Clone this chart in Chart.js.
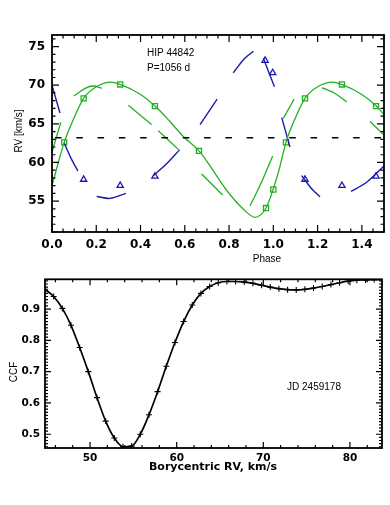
<!DOCTYPE html>
<html>
<head>
<meta charset="utf-8">
<script src="https://cdn.jsdelivr.net/npm/chart.js@4.4.0/dist/chart.umd.min.js"></script>
<style>
html, body { margin: 0; padding: 0; background: #fff; }
#wrap { position: relative; width: 390px; height: 505px; }
canvas { position: absolute; left: 0; }
</style>
</head>
<body>
<div id="wrap">
  <canvas id="rvChart" width="390" height="268" style="top:0px"></canvas>
  <canvas id="ccfChart" width="390" height="237" style="top:268px"></canvas>
</div>
<script>
// ---- RV curve (top panel) ----
let gammaRV = 63.2

// primary fit (solid green)
let fitPhase = [0, 0.055, 0.1, 0.143, 0.2, 0.266, 0.308, 0.4, 0.465, 0.53, 0.592, 0.664, 0.72, 0.771, 0.82, 0.863, 0.917, 0.967, 1.0, 1.03, 1.057, 1.1, 1.143, 1.2, 1.266, 1.308, 1.4, 1.465, 1.5]
let fitRV = [57.0, 62.6, 65.8, 68.3, 69.8, 70.4, 70.1, 68.8, 67.3, 65.4, 63.4, 61.5, 59.3, 57.1, 55.3, 54.0, 52.9, 54.1, 56.6, 59.5, 62.6, 65.8, 68.3, 69.8, 70.4, 70.1, 68.8, 67.3, 66.2]

// second green curve (long dashes, null = gap)
let altPhase = [0, 0.02, 0.04, null, 0.099, 0.15, 0.187, 0.225, null, 0.345, 0.45, null, 0.48, 0.578, null, 0.676, 0.771, null, 0.895, 0.946, 0.997, null, 1.045, 1.094, null, 1.219, 1.275, 1.332, null, 1.437, 1.5]
let altRV = [61.3, 63.3, 65.2, null, 68.6, 69.6, 69.9, 69.6, null, 67.4, 64.9, null, 64.1, 61.5, null, 58.5, 55.8, null, 54.4, 57.4, 60.85, null, 65.7, 68.2, null, 69.7, 69.0, 67.85, null, 65.3, 63.55]

// secondary fit (blue, long dashes)
let secPhase = [0, 0.018, 0.036, null, 0.054, 0.085, 0.117, null, 0.202, 0.262, 0.334, null, 0.458, 0.52, 0.575, null, 0.669, 0.746, null, 0.819, 0.865, 0.91, null, 0.955, 1.005, null, 1.038, 1.075, null, 1.128, 1.17, 1.211, null, 1.351, 1.42, 1.5]
let secRV = [70.0, 68.2, 66.4, null, 62.6, 60.6, 58.9, null, 55.6, 55.35, 56.0, null, 58.3, 59.9, 61.6, null, 64.9, 68.2, null, 71.6, 73.3, 74.4, null, 73.5, 69.8, null, 65.8, 62.0, null, 58.3, 56.7, 55.55, null, 56.25, 57.4, 59.55]

// observations
let sqPhase = [0.055, 0.143, 0.308, 0.465, 0.664, 0.967, 1.0, 1.057, 1.143, 1.31, 1.464]
let sqRV = [62.6, 68.3, 70.1, 67.3, 61.5, 54.1, 56.5, 62.6, 68.3, 70.1, 67.3]
let triPhase = [0.143, 0.308, 0.465, 0.963, 0.997, 1.143, 1.31, 1.464]
let triRV = [57.8, 57.0, 58.2, 73.2, 71.6, 57.8, 57.0, 58.2]

let phaseTicks = [0.0, 0.2, 0.4, 0.6, 0.8, 1.0, 1.2, 1.4]
let rvTicks = [55, 60, 65, 70, 75]

// ---- CCF (bottom panel) ----
let ccfV = [44.8, 45.8, 46.8, 47.8, 48.8, 49.8, 50.8, 51.8, 52.8, 53.8, 54.8, 55.8, 56.8, 57.8, 58.8, 59.8, 60.8, 61.8, 62.8, 63.8, 64.8, 65.8, 66.8, 67.8, 68.8, 69.8, 70.8, 71.8, 72.8, 73.8, 74.8, 75.8, 76.8, 77.8, 78.8, 79.8, 80.8, 81.8, 82.8, 83.8]
let ccf = [0.963, 0.940, 0.902, 0.848, 0.777, 0.700, 0.617, 0.542, 0.488, 0.460, 0.462, 0.500, 0.562, 0.636, 0.717, 0.793, 0.860, 0.913, 0.950, 0.972, 0.984, 0.988, 0.988, 0.986, 0.982, 0.976, 0.970, 0.965, 0.962, 0.961, 0.963, 0.967, 0.972, 0.978, 0.984, 0.989, 0.992, 0.993, 0.994, 0.994]
let rvTicksCCF = [50, 60, 70, 80]
let ccfTicks = [0.5, 0.6, 0.7, 0.8, 0.9]

const GREEN = '#22b022'
const BLUE = '#1a1aaa'

function pts(xs, ys) {
    return xs.map((x, i) => ({ x: x, y: ys[i] }))
}

// inward ticks on all four sides + frame
const frameTicks = {
    id: 'frameTicks',
    afterDatasetsDraw(chart, args, o) {
        const { ctx, chartArea: a, scales } = chart
        const xs = scales.x, ys = scales.y
        ctx.save()
        ctx.strokeStyle = '#000'
        ctx.lineWidth = 1.2
        ctx.beginPath()
        const tick = (v, axis, len) => {
            if (axis === 'x') {
                const p = xs.getPixelForValue(v)
                ctx.moveTo(p, a.bottom); ctx.lineTo(p, a.bottom - len)
                ctx.moveTo(p, a.top); ctx.lineTo(p, a.top + len)
            } else {
                const p = ys.getPixelForValue(v)
                ctx.moveTo(a.left, p); ctx.lineTo(a.left + len, p)
                ctx.moveTo(a.right, p); ctx.lineTo(a.right - len, p)
            }
        }
        for (let v = Math.ceil(xs.min / o.xMinor) * o.xMinor; v <= xs.max + 1e-9; v += o.xMinor) tick(v, 'x', o.minorLen)
        for (let v = Math.ceil(ys.min / o.yMinor) * o.yMinor; v <= ys.max + 1e-9; v += o.yMinor) tick(v, 'y', o.minorLen)
        xs.ticks.forEach(t => tick(t.value, 'x', o.majorLen))
        ys.ticks.forEach(t => tick(t.value, 'y', o.majorLen))
        ctx.stroke()
        ctx.lineWidth = 1.8
        ctx.strokeRect(a.left, a.top, a.right - a.left, a.bottom - a.top)
        ctx.restore()
    }
}

// free text labels
const labels = {
    id: 'labels',
    afterDraw(chart, args, o) {
        const ctx = chart.ctx
        ctx.save()
        ctx.fillStyle = '#000'
        o.items.forEach(t => {
            ctx.save()
            ctx.font = t.font
            ctx.textAlign = t.align || 'center'
            ctx.textBaseline = 'middle'
            ctx.translate(t.x, t.y)
            if (t.rot) ctx.rotate(t.rot)
            ctx.fillText(t.text, 0, 0)
            ctx.restore()
        })
        ctx.restore()
    }
}

const sans = '10px "Liberation Sans", Arial, sans-serif'
const idl = 'bold 11px "DejaVu Sans", sans-serif'

function rvChart() {
    const ctx = document.getElementById('rvChart')
    new Chart(ctx, {
        type: 'line',
        data: {
            datasets: [{
                data: [{ x: 0, y: gammaRV }, { x: 1.5, y: gammaRV }],
                borderColor: '#000',
                borderWidth: 1.6,
                borderDash: [6.5, 14.8],
                borderDashOffset: 18.3,
                pointRadius: 0
            }, {
                data: pts(fitPhase, fitRV),
                borderColor: GREEN,
                borderWidth: 1.3,
                pointRadius: 0,
                cubicInterpolationMode: 'monotone'
            }, {
                data: pts(altPhase, altRV),
                borderColor: GREEN,
                borderWidth: 1.3,
                pointRadius: 0,
                tension: 0.3
            }, {
                data: pts(secPhase, secRV),
                borderColor: BLUE,
                borderWidth: 1.4,
                pointRadius: 0,
                tension: 0.3
            }, {
                data: pts(sqPhase, sqRV),
                showLine: false,
                pointStyle: 'rect',
                pointRadius: 3.6,
                pointBorderWidth: 1.3,
                pointBorderColor: GREEN,
                pointBackgroundColor: 'rgba(0,0,0,0)'
            }, {
                data: pts(triPhase, triRV),
                showLine: false,
                pointStyle: 'triangle',
                pointRadius: 3.6,
                pointBorderWidth: 1.3,
                pointBorderColor: BLUE,
                pointBackgroundColor: 'rgba(0,0,0,0)'
            }]
        },
        options: {
            responsive: false,
            animation: false,
            devicePixelRatio: 1,
            layout: { autoPadding: false, padding: { left: 0, top: 35, right: 6, bottom: 0 } },
            scales: {
                x: {
                    type: 'linear', min: 0, max: 1.5,
                    afterFit: (s) => { s.height = 36 },
                    afterBuildTicks: (s) => { s.ticks = phaseTicks.map(v => ({ value: v })) },
                    ticks: { callback: (v) => v.toFixed(1), color: '#000', padding: 6, maxRotation: 0, autoSkip: false,
                        font: { family: 'DejaVu Sans', weight: 'bold', size: 12 } },
                    grid: { display: false, drawTicks: false },
                    border: { display: false }
                },
                y: {
                    type: 'linear', min: 51, max: 76.5,
                    afterFit: (s) => { s.width = 52 },
                    afterBuildTicks: (s) => { s.ticks = rvTicks.map(v => ({ value: v })) },
                    ticks: { callback: (v) => String(v), color: '#000', padding: 7,
                        font: { family: 'DejaVu Sans', weight: 'bold', size: 12 } },
                    grid: { display: false, drawTicks: false },
                    border: { display: false }
                }
            },
            plugins: {
                legend: { display: false },
                tooltip: { enabled: false },
                frameTicks: { xMinor: 0.05, yMinor: 1, majorLen: 7, minorLen: 3.5 },
                labels: { items: [
                    { text: 'HIP 44842', x: 147, y: 53, align: 'left', font: sans },
                    { text: 'P=1056 d', x: 147, y: 68, align: 'left', font: sans },
                    { text: 'Phase', x: 267, y: 259, font: sans },
                    { text: 'RV [km/s]', x: 19, y: 131, rot: -Math.PI / 2, font: sans }
                ] }
            }
        },
        plugins: [frameTicks, labels]
    })
}

function ccfChart() {
    const ctx = document.getElementById('ccfChart')
    new Chart(ctx, {
        type: 'line',
        data: {
            datasets: [{
                data: pts(ccfV, ccf),
                borderColor: '#000',
                borderWidth: 1.7,
                cubicInterpolationMode: 'monotone',
                pointStyle: 'cross',
                pointRadius: 3,
                pointBorderWidth: 1.1,
                pointBorderColor: '#000'
            }]
        },
        options: {
            responsive: false,
            animation: false,
            devicePixelRatio: 1,
            layout: { autoPadding: false, padding: { left: 0, top: 9, right: 8, bottom: 0 } },
            scales: {
                x: {
                    type: 'linear', min: 44.8, max: 83.7,
                    afterFit: (s) => { s.height = 57 },
                    afterBuildTicks: (s) => { s.ticks = rvTicksCCF.map(v => ({ value: v })) },
                    ticks: { callback: (v) => String(v), color: '#000', padding: 4, maxRotation: 0, autoSkip: false,
                        font: { family: 'DejaVu Sans', weight: 'bold', size: 10.5 } },
                    grid: { display: false, drawTicks: false },
                    border: { display: false }
                },
                y: {
                    type: 'linear', min: 0.456, max: 0.995,
                    afterFit: (s) => { s.width = 45 },
                    afterBuildTicks: (s) => { s.ticks = ccfTicks.map(v => ({ value: v })) },
                    ticks: { callback: (v) => v.toFixed(1), color: '#000', padding: 5,
                        font: { family: 'DejaVu Sans', weight: 'bold', size: 10.5 } },
                    grid: { display: false, drawTicks: false },
                    border: { display: false }
                }
            },
            plugins: {
                legend: { display: false },
                tooltip: { enabled: false },
                frameTicks: { xMinor: 2, yMinor: 0.01, majorLen: 6, minorLen: 3 },
                labels: { items: [
                    { text: 'CCF', x: 14, y: 104, rot: -Math.PI / 2, font: sans },
                    { text: 'JD 2459178', x: 314, y: 119, font: sans },
                    { text: 'Borycentric RV, km/s', x: 213, y: 199, font: idl }
                ] }
            }
        },
        plugins: [frameTicks, labels]
    })
}

rvChart()
ccfChart()
</script>
</body>
</html>
